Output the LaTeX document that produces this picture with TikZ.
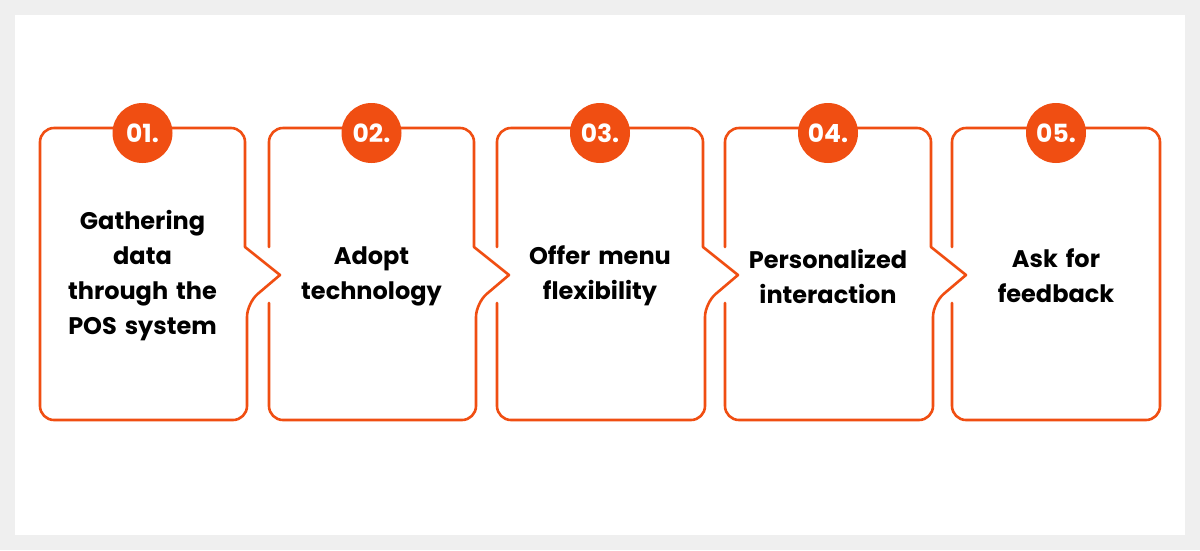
\documentclass[tikz,border=0pt]{standalone}
\usepackage{fontspec}
\setmainfont{Poppins}
\definecolor{stepred}{RGB}{240,78,18}
\definecolor{frame}{RGB}{239,239,239}
\tikzset{stepline/.style={draw=stepred, line width=2.6pt, rounded corners=14pt, line cap=round, line join=round},
stepnum/.style={circle, fill=stepred, minimum size=60pt, inner sep=0pt, text=white, font=\bfseries\fontsize{25}{25}\selectfont},
steptext/.style={align=center, text width=200pt, font=\bfseries\fontsize{24}{35}\selectfont}}
\begin{document}
\begin{tikzpicture}[x=1pt, y=-1pt]
    % Frame
    \fill[frame] (0,0) rectangle (1200,550);
    \fill[white] (15,15) rectangle (1185,535);
    \useasboundingbox (0,0) rectangle (1200,550);
    % Boxes
    \foreach \i/\L/\R/\num/\txt in {
        1/40/245/01./{Gathering\\data\\through the\\POS system},
        2/269/474/02./{Adopt\\technology},
        3/497/703/03./{Offer menu\\flexibility},
        4/725/931/04./{Personalized\\interaction},
        5/952/1160/05./{Ask for\\feedback}} {
        \ifnum\i=5
            \draw[stepline] (\L,303) -- (\L,420) -- (\R,420) -- (\R,128) -- (\L,128) -- (\L,247);
        \else\ifnum\i=1
            \draw[stepline] (\R+2,303) [sharp corners] -- (\R+35,275) -- (\R,247) [rounded corners=14pt] -- (\R,128) -- (\L,128) -- (\L,420) -- (\R+2,420) -- cycle;
        \else
            \draw[stepline] (\L,303) -- (\L,420) -- (\R+2,420) -- (\R+2,303) [sharp corners] -- (\R+35,275) -- (\R,247) [rounded corners=14pt] -- (\R,128) -- (\L,128) -- (\L,247);
        \fi\fi
        \node[stepnum] (num\i) at ({(\L+\R)/2},133) {\num};
        \node[steptext] (txt\i) at ({(\L+\R)/2},276) {\txt};
    }
\end{tikzpicture}
\end{document}
